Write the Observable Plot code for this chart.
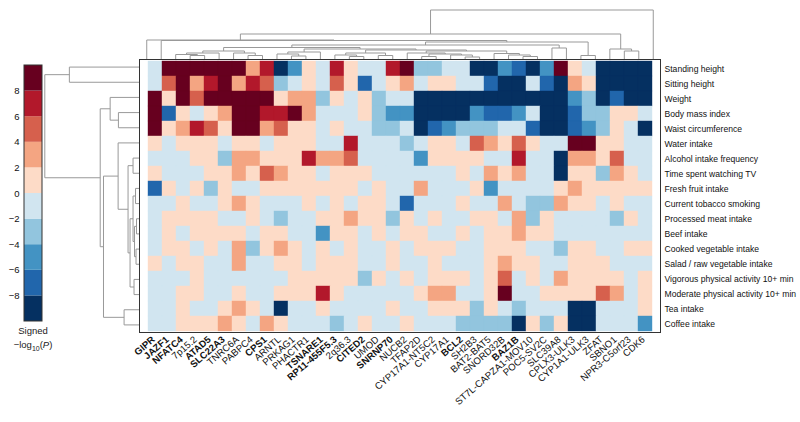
<!DOCTYPE html>
<html><head><meta charset="utf-8">
<script src="https://cdn.jsdelivr.net/npm/d3@7"></script>
<script src="https://cdn.jsdelivr.net/npm/@observablehq/plot@0.6"></script>
<style>
body{margin:0;background:#fff;font-family:"Liberation Sans",Arial,sans-serif;}
#chart{position:relative;width:800px;height:422px;overflow:hidden;background:#fff;}
#chart svg{position:absolute;left:0;top:0;overflow:visible;background:transparent;}
#lbl{position:absolute;left:0;top:324px;width:66px;text-align:center;font-size:9.5px;line-height:14px;color:#222;}
</style></head><body><div id="chart"></div>
<script>
const traits = ["Standing height","Sitting height","Weight","Body mass index","Waist circumference","Water intake","Alcohol intake frequency","Time spent watching TV","Fresh fruit intake","Current tobacco smoking","Processed meat intake","Beef intake","Cooked vegetable intake","Salad / raw vegetable intake","Vigorous physical activity 10+ min","Moderate physical activity 10+ min","Tea intake","Coffee intake"];
const genes = ["GIPR","JAZF1","NFATC4","7p15.2","ATAD5","SLC22A3","TNRC6A","PABPC4","CPS1","ARNTL","PRKAG1","PHACTR1","TSNARE1","RP11-455F5.3","2q36.3","CITED2","UMOD","SNRNP70","NUCB2","TFAP2D","CYP17A1-NT5C2","CYP17A1","BCL2","SH2B3","BAT2-BAT5","SNORD32B","BAZ1B","ST7L-CAPZA1-MOV10","POC5-SV2C","SLC39A8","CPLX3-ULK3","CYP1A1-ULK3","ZFAT","SBNO1","NPR3-C5orf23","CDK6"];
const boldGenes = ["GIPR","JAZF1","NFATC4","ATAD5","SLC22A3","CPS1","TSNARE1","RP11-455F5.3","CITED2","SNRNP70","BCL2","BAZ1B"];
// signed -log10(P), one row per trait, one value per gene
const values = [
[-1,9,9,9,9,9,9,3,7,-9,-5,1,-1,7,1,-1,-1,7,9,-3,-3,-1,-1,-9,-9,-5,-7,-9,-5,9,1,-1,-9,-9,-9,-9],
[-1,5,9,3,7,9,3,7,5,-3,-1,1,-1,5,1,-7,-1,1,3,-1,1,1,-1,-1,-7,-9,-9,-1,-7,-9,3,1,-9,-9,-9,-9],
[9,1,9,5,9,9,9,9,9,1,3,3,-3,1,-1,1,-3,-1,-1,-9,-9,-9,-9,-9,-9,-9,-9,-9,-9,-9,-5,-3,-9,-7,-9,-9],
[9,-7,1,-1,1,3,9,9,7,7,9,3,-1,-1,-1,1,-3,-5,-5,-9,-9,-9,-9,-5,-7,-7,-5,-1,-9,-9,-7,-3,-3,1,1,-1],
[9,1,3,7,5,1,9,9,3,5,1,1,-1,1,-1,-1,-3,-3,-1,-9,-7,-5,-3,-3,-3,-1,-1,-7,-9,-9,-7,-5,-3,1,-1,-9],
[1,-1,1,1,1,-1,1,1,-1,1,1,1,-1,-1,7,-1,-1,-1,-3,-1,1,1,-1,5,3,1,5,1,-1,-1,9,9,1,1,-1,-1],
[-1,-1,-1,1,1,-3,3,3,1,1,1,7,3,3,5,-1,-1,-1,-1,-5,1,1,1,1,-1,-1,7,-1,-1,-9,3,3,1,5,-1,-1],
[1,-1,-1,-1,1,1,3,1,5,3,1,1,-1,1,1,1,-1,-1,-1,-1,-1,-1,1,-1,3,1,3,-1,-1,-9,1,1,-3,3,1,-1],
[-7,1,-1,1,-3,1,-1,-1,1,1,1,1,1,1,1,-1,1,-1,-1,3,-1,-1,-1,1,-5,-1,-1,-1,-1,1,3,1,1,1,1,1],
[-1,-1,1,-1,-1,1,3,1,-1,-1,-1,1,-1,1,-1,1,1,-1,-7,-1,-1,-1,1,-1,-1,3,-1,-3,-3,3,1,1,-1,1,-1,-1],
[-1,1,1,1,1,-1,-1,1,-1,-3,-1,-1,1,1,3,1,1,-3,1,-1,1,-1,-1,1,1,-1,3,-3,1,-1,-1,-1,-1,-3,1,-1],
[-1,1,-1,1,1,1,1,-1,1,1,-1,-1,-5,1,1,-1,1,-1,1,1,-1,-1,1,-1,1,1,3,1,1,-1,-1,-1,-1,-1,-1,-1],
[-1,1,1,-1,1,-1,3,-3,1,3,1,-1,1,-1,1,-1,-1,1,-1,1,1,1,-1,-1,1,1,1,-1,-1,-3,1,1,-1,-1,1,1],
[1,-1,1,1,-1,-1,3,-1,-1,1,1,-1,1,1,1,-1,-1,1,-1,-1,1,-1,-1,-1,1,3,1,1,-1,-1,1,1,1,-1,-1,-1],
[-1,-1,-1,1,-1,-1,-1,-1,-1,-1,1,1,1,1,1,-3,1,-1,1,-1,1,1,1,-1,1,5,-1,1,-1,3,1,1,1,1,-1,1],
[-1,-1,1,1,-1,-1,1,-1,-1,1,1,1,7,1,-1,-1,-1,-1,-1,1,3,3,-1,-1,1,9,-1,-1,1,1,1,1,5,3,-1,1],
[-1,-1,1,-1,-1,1,3,1,-1,-9,-1,-1,1,-1,-1,-1,-1,1,-1,-1,1,1,1,-3,1,-1,-3,-1,-1,-1,-9,-9,-1,-1,-1,1],
[-1,-1,1,1,1,3,1,-1,3,1,-1,-1,-1,-3,-1,1,-1,-1,1,-1,-1,-1,-3,-3,-3,-3,-9,1,-3,1,-9,-9,-1,-1,-1,-5]
];
const thresholds = [-8,-6,-4,-2,0,2,4,6,8];
const palette = ["#053061","#2166ac","#4393c3","#92c5de","#d1e5f0","#fddbc7","#f4a582","#d6604d","#b2182b","#67001f"];
const legendTicks = [8,6,4,2,0,-2,-4,-6,-8];
const binEdges = [-10,-8,-6,-4,-2,0,2,4,6,8,10];
// dendrograms: [mergeHeight, left, right]; integers are leaf indices
const colTree = [49,
  [25,
    [19, 0,
      [18.5, 1,
        [17,
          [14,
            [11.5,
              [8, [6, [4.5, 2, [3.5, 3, 4]], 5], [6, 6, [3.5, 7, 8]]],
              [10,
                [7, [5, 9, [3, 10, 11]], 12],
                [9,
                  [6, [4, 13, [2.5, 14, 15]], [3.5, 16, 17]],
                  [8, [6, 18, [5, [2.5, 19, 20], [4, 21, [2, 22, 23]]]], [5.5, 24, [4, 25, [2.5, 26, 27]]]]]]],
            [11, 28, 29]],
          [3.5, 30, 31]]]],
    [10, 32, [8, 33, 34]]],
  35];
const rowTree = [94.7,
  [70, 0, 1],
  [39,
    [29, 2, [20.7, 3, 4]],
    [35.7,
      [21, 5, [11, [6, 6, 7], [9, [6, [3.5, 8, 9], [4.5, [2.5, 10, 11], [3, 12, 13]]], [5, 14, 15]]]],
      [15, 16, 17]]]];

const color = {type: "threshold", domain: thresholds, range: palette};
const font = {fontFamily: "'Liberation Sans', Arial, sans-serif", fontSize: "9px", color: "#111", background: "transparent"};

function layout(node, segs) {
  if (typeof node === "number") return {pos: node, h: 0};
  const [h, a, b] = node;
  const A = layout(a, segs), B = layout(b, segs);
  segs.push({p1: A.pos, p2: B.pos, h1: h, h2: h});
  segs.push({p1: A.pos, p2: A.pos, h1: A.h, h2: h});
  segs.push({p1: B.pos, p2: B.pos, h1: B.h, h2: h});
  return {pos: (A.pos + B.pos) / 2, h};
}
const colSegs = []; layout(colTree, colSegs);
const rowSegs = []; layout(rowTree, rowSegs);

const cells = traits.flatMap((t, i) => genes.map((g, j) => ({trait: t, gene: g, v: values[i][j]})));

const W = 800, H = 422, L = 139, R = 660, T = 59, B = 332;
const colLabel = (data, weight) => Plot.text(data, {x: d => d, frameAnchor: "bottom", text: d => d, rotate: -41,
  textAnchor: "end", dx: 0, dy: 8, fontSize: 9.6, fontWeight: weight, fill: "#111"});

const heat = Plot.plot({
  width: W, height: H, marginLeft: L, marginRight: W - R, marginTop: T, marginBottom: H - B,
  style: font,
  x: {domain: genes, padding: 0, axis: null},
  y: {domain: traits, padding: 0, axis: null},
  color,
  marks: [
    Plot.cell(cells, {x: "gene", y: "trait", fill: "v", stroke: "v", strokeWidth: 0.4}),
    Plot.frame({stroke: "#333", strokeWidth: 1}),
    Plot.axisY({anchor: "right", tickSize: 0, tickPadding: 4, fontSize: 8.6, label: null, fill: "#111"}),
    colLabel(genes.filter(g => !boldGenes.includes(g)), "normal"),
    colLabel(genes.filter(g => boldGenes.includes(g)), "bold")
  ]
});

const topDendro = Plot.plot({
  width: W, height: H, style: font,
  x: {domain: [-0.5, genes.length - 0.5], range: [L, R], axis: null},
  y: {domain: [0, 49], range: [T - 0.5, 9.5], axis: null},
  marks: [Plot.link(colSegs, {x1: "p1", x2: "p2", y1: "h1", y2: "h2", stroke: "#999", strokeWidth: 1})]
});

const leftDendro = Plot.plot({
  width: W, height: H, style: font,
  x: {domain: [0, 95], range: [L - 0.5, 44], axis: null},
  y: {domain: [-0.5, traits.length - 0.5], range: [T, B], axis: null},
  marks: [Plot.link(rowSegs, {x1: "h1", x2: "h2", y1: "p1", y2: "p2", stroke: "#999", strokeWidth: 1})]
});

const bins = binEdges.slice(0, -1).map((lo, i) => ({lo, hi: binEdges[i + 1], mid: (lo + binEdges[i + 1]) / 2}));
const legend = Plot.plot({
  width: W, height: H, style: font, color,
  x: {domain: [0, 1], range: [24, 42], axis: null},
  y: {domain: [-10, 10], range: [321, 65], axis: null},
  marks: [
    Plot.rect(bins, {x1: 0, x2: 1, y1: "lo", y2: "hi", fill: "mid"}),
    Plot.rect([0], {x1: 0, x2: 1, y1: -10, y2: 10, stroke: "#333", strokeWidth: 1, fill: "none"}),
    Plot.text(legendTicks, {x: 0, y: d => d, text: d => d < 0 ? "\u2212" + (-d) : String(d), textAnchor: "end", dx: -5, fontSize: 9.5, fill: "#111"})
  ]
});

const chart = document.getElementById("chart");
for (const p of [heat, topDendro, leftDendro, legend]) chart.appendChild(p);
const lbl = document.createElement("div");
lbl.id = "lbl";
lbl.innerHTML = "Signed<br>\u2212log<sub style='font-size:7px'>10</sub>(<i>P</i>)";
chart.appendChild(lbl);
</script>
</body></html>
